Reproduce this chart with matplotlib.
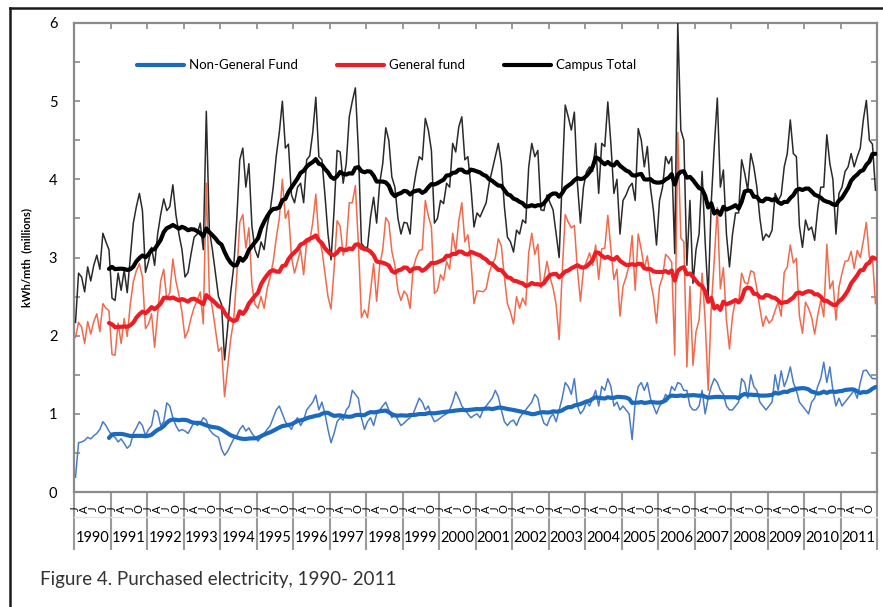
import numpy as np
import pandas as pd
import matplotlib
matplotlib.use("Agg")
import matplotlib.pyplot as plt
from matplotlib.lines import Line2D
from matplotlib.ticker import MultipleLocator

plt.rcParams["font.family"] = ["Lato", "DejaVu Sans"]

years = list(range(1990, 2012))
quarter_letters = ["J", "A", "J", "O"]

# monthly purchased electricity (million kWh), one row per year, Jan..Dec
campus_total = [
    2.17, 2.80, 2.75, 2.56, 2.88, 2.70, 2.90, 3.03, 2.85, 3.31, 3.20, 3.10,  # 1990
    2.48, 2.45, 2.80, 2.58, 2.84, 2.55, 3.00, 3.44, 3.65, 3.82, 3.60, 2.81,  # 1991
    2.95, 3.13, 2.90, 3.30, 3.55, 3.75, 3.60, 3.65, 3.93, 3.55, 3.30, 3.10,  # 1992
    2.75, 2.81, 3.05, 3.26, 3.30, 3.44, 3.10, 4.87, 3.35, 3.10, 2.80, 2.50,  # 1993
    2.40, 1.69, 2.10, 2.55, 2.88, 3.48, 4.25, 4.40, 3.90, 4.20, 3.40, 3.10,  # 1994
    3.00, 3.20, 3.10, 3.40, 3.60, 3.90, 4.30, 4.60, 5.00, 4.40, 4.45, 3.80,  # 1995
    3.70, 3.90, 3.95, 3.70, 4.25, 4.30, 4.60, 5.05, 4.29, 4.25, 3.80, 3.30,  # 1996
    2.97, 3.60, 4.37, 4.35, 3.95, 4.20, 4.80, 5.00, 5.17, 4.37, 3.18, 3.13,  # 1997
    3.13, 3.52, 3.77, 3.44, 3.95, 4.20, 4.66, 4.50, 4.03, 3.90, 3.50, 3.30,  # 1998
    3.45, 3.44, 3.30, 3.86, 4.10, 4.29, 4.25, 4.78, 4.63, 4.37, 3.44, 3.50,  # 1999
    3.73, 3.69, 3.95, 3.90, 4.46, 4.35, 4.67, 4.80, 4.25, 4.29, 3.90, 3.39,  # 2000
    3.57, 3.52, 3.61, 3.70, 3.95, 4.12, 4.29, 4.46, 4.20, 3.65, 3.26, 3.20,  # 2001
    3.07, 3.35, 3.30, 3.48, 3.44, 4.16, 4.46, 4.29, 4.37, 3.61, 3.60, 3.80,  # 2002
    3.70, 3.61, 3.30, 3.00, 4.00, 4.95, 4.80, 4.63, 4.86, 3.95, 3.44, 3.90,  # 2003
    4.10, 4.16, 4.10, 4.46, 3.82, 4.46, 4.42, 4.99, 4.46, 3.82, 4.00, 3.30,  # 2004
    3.73, 3.80, 3.90, 3.95, 3.73, 4.65, 4.50, 4.16, 4.42, 3.90, 3.60, 3.16,  # 2005
    3.73, 3.90, 4.29, 4.20, 4.29, 3.05, 6.00, 4.63, 4.50, 2.90, 3.73, 2.67,  # 2006
    3.10, 3.30, 4.10, 3.20, 2.50, 3.70, 4.42, 5.04, 3.90, 4.12, 3.30, 2.88,  # 2007
    3.30, 3.57, 3.57, 4.25, 4.08, 3.86, 4.33, 4.16, 3.90, 3.50, 3.22, 3.30,  # 2008
    3.26, 3.35, 3.82, 3.73, 3.80, 4.16, 4.33, 4.76, 4.33, 4.29, 3.40, 3.13,  # 2009
    3.48, 3.35, 3.39, 3.22, 3.61, 3.90, 3.90, 4.57, 4.20, 4.00, 3.30, 3.82,  # 2010
    3.90, 4.10, 4.16, 4.33, 4.16, 4.29, 4.40, 4.76, 5.01, 4.50, 4.45, 3.86,  # 2011
]

non_general = [
    0.19, 0.63, 0.64, 0.66, 0.70, 0.68, 0.72, 0.75, 0.80, 0.90, 0.85, 0.78,  # 1990
    0.72, 0.70, 0.64, 0.68, 0.62, 0.56, 0.60, 0.75, 0.82, 0.90, 0.85, 0.72,  # 1991
    0.80, 0.85, 1.05, 1.02, 0.85, 0.90, 1.14, 1.10, 0.95, 0.85, 0.78, 0.80,  # 1992
    0.78, 0.75, 0.82, 0.90, 0.85, 0.88, 0.95, 0.92, 0.80, 0.75, 0.72, 0.70,  # 1993
    0.55, 0.47, 0.52, 0.60, 0.68, 0.72, 0.80, 0.85, 0.78, 0.82, 0.75, 0.70,  # 1994
    0.65, 0.70, 0.75, 0.80, 0.85, 0.95, 1.05, 1.10, 1.00, 0.90, 0.85, 0.80,  # 1995
    0.90, 0.95, 0.85, 0.92, 1.05, 1.10, 1.15, 1.24, 1.05, 1.15, 1.00, 0.80,  # 1996
    0.63, 0.75, 0.90, 0.95, 0.92, 1.05, 1.10, 1.30, 1.25, 1.20, 0.95, 0.80,  # 1997
    0.90, 0.95, 0.85, 1.00, 1.05, 1.10, 1.15, 1.05, 0.95, 1.00, 0.92, 0.85,  # 1998
    0.88, 0.92, 0.95, 1.00, 1.10, 1.20, 1.15, 1.05, 1.10, 0.98, 0.90, 0.92,  # 1999
    0.95, 0.98, 1.00, 1.05, 1.15, 1.28, 1.20, 1.10, 1.05, 1.00, 0.95, 0.98,  # 2000
    1.00, 0.95, 1.05, 1.10, 1.15, 1.20, 1.30, 1.22, 1.05, 0.90, 0.85, 0.90,  # 2001
    0.92, 0.85, 0.95, 1.00, 1.05, 1.10, 1.15, 1.25, 1.20, 1.00, 0.88, 0.85,  # 2002
    0.95, 1.00, 0.90, 1.05, 1.20, 1.40, 1.35, 1.25, 1.45, 1.10, 1.00, 1.05,  # 2003
    1.15, 1.10, 1.20, 1.30, 1.10, 1.35, 1.30, 1.45, 1.35, 1.10, 1.15, 1.05,  # 2004
    1.10, 1.05, 1.00, 0.67, 1.15, 1.35, 1.40, 1.30, 1.40, 1.20, 1.10, 1.00,  # 2005
    1.10, 1.15, 1.25, 1.20, 1.35, 1.30, 1.40, 1.38, 1.30, 1.30, 1.10, 1.05,  # 2006
    1.05, 1.10, 1.30, 1.00, 1.20, 1.35, 1.45, 1.40, 1.30, 1.25, 1.10, 1.05,  # 2007
    1.05, 1.10, 1.15, 1.45, 1.40, 1.20, 1.50, 1.35, 1.30, 1.15, 1.10, 1.05,  # 2008
    1.10, 1.15, 1.50, 1.30, 1.55, 1.35, 1.45, 1.60, 1.40, 1.30, 1.15, 1.10,  # 2009
    1.05, 1.00, 1.15, 1.20, 1.35, 1.45, 1.66, 1.40, 1.60, 1.30, 1.10, 1.20,  # 2010
    1.10, 1.15, 1.20, 1.25, 1.30, 1.20, 1.40, 1.55, 1.56, 1.50, 1.45, 1.45,  # 2011
]

total = np.array(campus_total)
ngf = np.array(non_general)
gf = total - ngf  # general fund is whatever is not non-general
months = np.arange(len(total))

# 12 month moving averages
ngf_avg = pd.Series(ngf).rolling(12).mean()
gf_avg = pd.Series(gf).rolling(12).mean()
total_avg = pd.Series(total).rolling(12).mean()

fig = plt.figure(figsize=(8.83, 6.07), dpi=100)
ax = fig.add_axes([74 / 883, 115 / 607, 803 / 883, 469 / 607])

ax.plot(months, ngf, color="#4a7cc6", lw=1.1, zorder=6)
ax.plot(months, gf, color="#f26a4c", lw=1.1, zorder=6)
ax.plot(months, total, color="#2a2a2a", lw=1.1, zorder=6)

l1, = ax.plot(months, ngf_avg, color="#1c6abd", lw=3.0, zorder=7, solid_capstyle="round")
l2, = ax.plot(months, gf_avg, color="#ee1c25", lw=3.0, zorder=7, solid_capstyle="round")
l3, = ax.plot(months, total_avg, color="#000000", lw=3.0, zorder=7, solid_capstyle="round")

leg = ax.legend([l1, l2, l3], ["Non-General Fund", "General fund", "Campus Total"],
                loc="center left", bbox_to_anchor=(0.078, 0.91), ncol=3,
                frameon=False, fontsize=9.5, handlelength=3.6, handletextpad=0.4,
                columnspacing=2.9, borderpad=0, borderaxespad=0)
leg.set_zorder(2)

ax.set_xlim(-0.5, len(total) - 0.5)
ax.set_ylim(0, 6)

ax.yaxis.set_major_locator(MultipleLocator(1))
ax.yaxis.set_minor_locator(MultipleLocator(0.5))
ax.tick_params(axis="y", which="both", direction="in", left=True, right=True,
               length=4, width=1.2, color="#8a8a8a", labelsize=10.5, pad=12)

year_edges = np.arange(0, len(total) + 1, 12) - 0.5
ax.set_xticks(year_edges)
ax.tick_params(axis="x", bottom=False, top=True, labelbottom=False,
               direction="in", length=4, width=1.2, color="#8a8a8a")

for s in ax.spines.values():
    s.set_color("#8a8a8a")
    s.set_linewidth(1.6)

ax.set_ylabel("kWh/mth  (millions)", fontsize=8, fontweight="bold")
ax.yaxis.set_label_coords(-0.052, 0.5)

# category axis: quarter letters, year labels and year dividers
tr = ax.get_xaxis_transform()
ax.vlines(year_edges, -0.124, 0, transform=tr, colors="#9a9a9a", lw=1.5, clip_on=False)
ax.plot([-0.5, len(total) - 0.5], [-0.053, -0.053], transform=tr,
        color="#e4e4e4", lw=1, clip_on=False)
for k, yr in enumerate(years):
    for q, letter in enumerate(quarter_letters):
        ax.text(12 * k + 3 * q, -0.036, letter, transform=tr, rotation=90,
                ha="center", va="center", fontsize=8, clip_on=False)
    ax.text(12 * k + 5.5, -0.098, str(yr), transform=tr, ha="center",
            va="center", fontsize=10.5, clip_on=False)

# outer frame
fig.add_artist(Line2D([10 / 883, 10 / 883], [0, 1 - 8 / 607],
                      transform=fig.transFigure, color="#1a1a1a", lw=1.8))
fig.add_artist(Line2D([10 / 883, 1], [1 - 8 / 607, 1 - 8 / 607],
                      transform=fig.transFigure, color="#1a1a1a", lw=1.8))

fig.text(40 / 883, 1 - 580 / 607, "Figure 4. Purchased electricity, 1990- 2011",
         fontsize=13.5, color="#333333", va="center")

fig.savefig("out.png", dpi=100)
